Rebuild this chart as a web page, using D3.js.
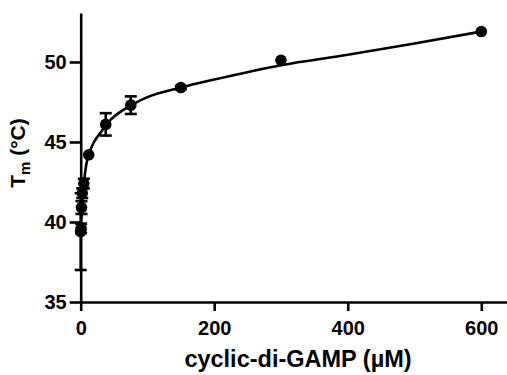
<!DOCTYPE html>
<html>
<head>
<meta charset="utf-8">
<script src="https://cdn.jsdelivr.net/npm/d3@7"></script>
<style>
  body { margin: 0; background: #fff; }
  svg { display: block; }
  text { font-family: "Liberation Sans", Arial, sans-serif; font-weight: bold; fill: #000; }
</style>
</head>
<body>
<svg id="chart" width="507" height="375"></svg>
<script>
// measured points (conc in uM, Tm in C, error = SD)
const conc = [0, 0.6, 1.2, 2.3, 4.7, 12, 37.5, 75, 150, 300, 600];
const tm   = [39.4, 39.6, 40.9, 41.8, 42.4, 44.2, 46.1, 47.3, 48.4, 50.1, 51.9];
const err  = [2.4, 0.3, 0.4, 0.3, 0.3, 0, 0.7, 0.55, 0.1, 0, 0];

// fitted curve
const fitX = [0, 0.5, 1, 2, 3, 5, 8, 12, 20, 30, 45, 60, 80, 100, 150, 200, 300, 400, 500, 600];
const fitY = [39.6, 39.9, 40.3, 41.0, 41.6, 42.5, 43.5, 44.2, 45.0, 45.6, 46.4, 46.9, 47.4, 47.8, 48.4, 48.9, 49.8, 50.45, 51.15, 51.9];

const xTicks = [0, 200, 400, 600];
const yTicks = [35, 40, 45, 50];

const svg = d3.select("#chart");

var x = d3.scaleLinear().domain([0, 640]).range([80.7, 508]);
var y = d3.scaleLinear().domain([35, 53.06]).range([302, 13]);

// Add the fit line
var fitline = d3.line()
  .x(function(d) { return x(d[0]); })
  .y(function(d) { return y(d[1]); })
  .curve(d3.curveMonotoneX);

svg.append("path")
  .attr("d", fitline(d3.zip(fitX, fitY)))
  .style("fill", "none")
  .style("stroke", "#000")
  .style("stroke-width", 2.6);

// error bars
const pts = d3.zip(conc, tm, err);
const eb = svg.append("g").style("stroke", "#000").style("stroke-width", 2.6);
pts.filter(d => d[2] > 0).forEach(function(d) {
  const cx = x(d[0]), y1 = y(d[1] - d[2]), y2 = y(d[1] + d[2]);
  eb.append("line").attr("x1", cx).attr("x2", cx).attr("y1", y1).attr("y2", y2);
  eb.append("line").attr("x1", cx - 6).attr("x2", cx + 6).attr("y1", y1).attr("y2", y1);
  eb.append("line").attr("x1", cx - 6).attr("x2", cx + 6).attr("y1", y2).attr("y2", y2);
});

// points
svg.append("g").selectAll("circle")
  .data(pts)
  .enter().append("circle")
  .attr("cx", d => x(d[0]))
  .attr("cy", d => y(d[1]))
  .attr("r", 5.8)
  .style("fill", "#000");

// Add the X Axis
var gx = svg.append("g")
  .attr("transform", "translate(0," + y(35) + ")")
  .call(d3.axisBottom(x).tickValues(xTicks).tickSize(9).tickSizeOuter(0).tickPadding(10));

// Add the Y Axis
var gy = svg.append("g")
  .attr("transform", "translate(" + x(0) + ",0)")
  .call(d3.axisLeft(y).tickValues(yTicks).tickSize(11).tickSizeOuter(0).tickPadding(3));

[gx, gy].forEach(function(g) {
  g.selectAll("path.domain, line").style("stroke", "#000").style("stroke-width", 2.6);
  g.selectAll("text").style("font-size", "20px").style("font-family", null);
});

// axis titles
svg.append("text")
  .attr("x", 298)
  .attr("y", 367)
  .attr("text-anchor", "middle")
  .style("font-size", "23.5px")
  .text("cyclic-di-GAMP (µM)");

const yl = svg.append("text")
  .attr("transform", "translate(25,153) rotate(-90)")
  .attr("text-anchor", "middle")
  .style("font-size", "21px");
yl.append("tspan").text("T");
yl.append("tspan").attr("dy", 5).style("font-size", "15px").text("m");
yl.append("tspan").attr("dy", -5).text(" (°C)");
</script>
</body>
</html>
